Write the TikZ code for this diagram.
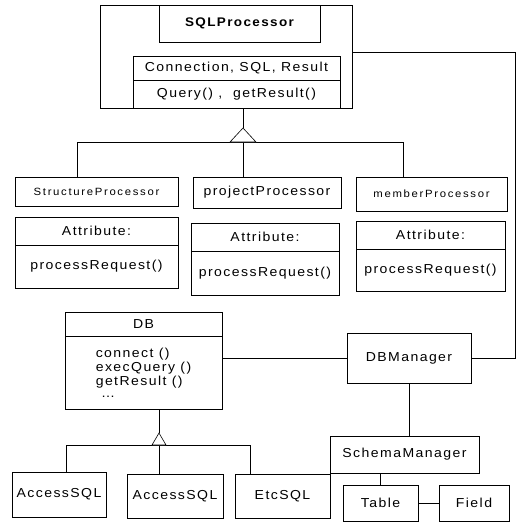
\documentclass[tikz,border=0pt]{standalone}
\usepackage{fontspec}
\setmainfont{Liberation Sans}[FakeStretch=1.08,LetterSpace=11]
\begin{document}
\begin{tikzpicture}[x=1pt,y=-1pt,
  frame/.style={draw, line width=0.6pt, inner sep=0pt, outer sep=0pt},
  span/.style args={#1/#2/#3/#4}{minimum width={(#3-#1)*1pt},
    minimum height={(#4-#2)*1pt}, at={({(#1+#3)/2},{(#2+#4)/2})}},
  wire/.style={line width=0.6pt},
  gen/.style={draw, line width=0.6pt, fill=white},
  big/.style={font=\fontsize{13}{14}\selectfont},
  small/.style={font=\fontsize{10.5}{12}\selectfont\addfontfeature{LetterSpace=16}}]
\useasboundingbox (0,0) rectangle (530,523);

% SQLProcessor package
\node[frame, span=100/5/352/108] (sqlpkg) {};
\node[frame, span=159/5/320/42, font=\fontsize{12.5}{14}\selectfont\bfseries] (sqltitle) {SQLProcessor};
\node[frame, span=133/56/340/80, big] (sqlattr) {Connection, SQL, Result};
\node[frame, span=133/80/340/108, big, line width=0.9pt] (sqlops) {Query() ,\ \ getResult()};

% processor classes
\node[frame, span=15/177/178/206, small] (sp) {StructureProcessor};
\node[frame, span=193/177/341/208, big] (pp) {projectProcessor};
\node[frame, span=356/177/507/211, small] (mp) {memberProcessor};

\node[frame, span=15/217/178/245, big] (a1) {Attribute:};
\node[frame, span=15/245/178/288, big] (o1) {processRequest()};
\node[frame, span=191/223/339/251, big] (a2) {Attribute:};
\node[frame, span=191/251/339/295, big] (o2) {processRequest()};
\node[frame, span=356/221/505/249, big] (a3) {Attribute:};
\node[frame, span=356/249/505/291, big] (o3) {processRequest()};

% generalization of the processors
\coordinate (g1) at (243,128);
\coordinate (b1L) at (77,142);
\coordinate (b1R) at (403,142);
\draw[wire] (sqlops.south -| g1) -- (g1);
\draw[wire] (sp.north -| b1L) -- (b1L) -- (b1R) -- (b1R |- mp.north);
\draw[wire] (g1 |- b1L) -- (pp.north -| g1);
\draw[gen] (g1) -- ++(-13,14) -- ++(26,0) -- cycle;

% DB class
\node[frame, span=65/312/222/336, big] (dbhead) {DB};
\node[frame, span=65/336/222/409, big, align=left] (dbbody) {connect ()\\execQuery ()\\getResult ()\\[-2pt]\ \ldots};

% managers
\node[frame, span=347/333/471/383, big] (dbm) {DBManager};
\node[frame, span=330/436/479/473, big] (sm) {SchemaManager};
\node[frame, span=343/485/418/521, big] (tbl) {Table};
\node[frame, span=439/485/509/521, big] (fld) {Field};

% SQL implementations
\node[frame, span=12/472/106/517, big] (acc1) {AccessSQL};
\node[frame, span=127/474/223/518, big] (acc2) {AccessSQL};
\node[frame, span=235/474/330/518, big] (etc) {EtcSQL};

% generalization of the SQL classes
\coordinate (g2) at (159,433);
\coordinate (b2L) at (66,445);
\coordinate (b2R) at (250,445);
\draw[wire] (dbbody.south -| g2) -- (g2);
\draw[wire] (acc1.north -| b2L) -- (b2L) -- (b2R) -- (b2R |- etc.north);
\draw[wire] (g2 |- b2L) -- (acc2.north -| g2);
\draw[gen] (g2) -- ++(-7,12) -- ++(14,0) -- cycle;

% associations
\coordinate (r1) at (515,52);
\draw[wire] (sqlpkg.east |- r1) -- (r1) -- (r1 |- dbm.east) -- (dbm.east);
\draw[wire] (dbbody.east |- dbm.west) -- (dbm.west);
\draw[wire] (dbm.south) -- (dbm.south |- sm.north);
\draw[wire] (sm.south -| tbl.north) -- (tbl.north);
\draw[wire] (tbl.east) -- (fld.west);
\end{tikzpicture}
\end{document}
